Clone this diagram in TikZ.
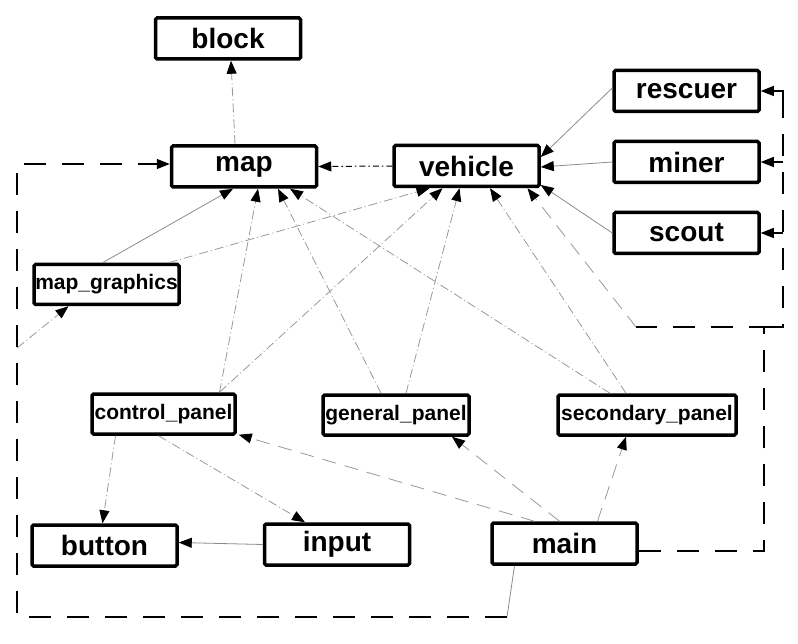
\documentclass[tikz,border=0pt]{standalone}
\usepackage{fontspec}
\setmainfont{Liberation Sans}
\usetikzlibrary{arrows.meta,calc}
\begin{document}
\begin{tikzpicture}[x=1pt,y=-1pt,
  box/.style={draw=black,line width=3.5pt,rounded corners=1.5pt,inner sep=0pt,fill=white,font=\bfseries},
  bigbox/.style={box,minimum width=145pt,minimum height=41pt,font=\fontsize{28}{30}\selectfont\bfseries},
  smallbox/.style={box,minimum height=40pt,font=\fontsize{21}{23}\selectfont\bfseries},
  arr/.style={-{Triangle[length=13pt,width=10pt,color=black]}},
  gsolid/.style={draw=black!45,line width=0.8pt},
  gdd/.style={draw=black!40,line width=0.8pt,dash pattern=on 9pt off 3pt on 1pt off 3pt},
  glong/.style={draw=black!40,line width=0.8pt,dash pattern=on 14pt off 9pt},
  bdd/.style={draw=black,line width=1pt,dash pattern=on 6pt off 3pt on 1.5pt off 3pt},
  route/.style={draw=black,line width=1.1pt,dash pattern=on 22pt off 16pt},
  bsolid/.style={draw=black,line width=1.1pt}]
\useasboundingbox (0,0) rectangle (798,644);
\fill[white] (0,0) rectangle (798,644);

% nodes
\node[bigbox] (block) at (228,38.5) {block};
\node[bigbox] (map) at (244,166.5) {map};
\node[bigbox] (vehicle) at (466.5,166) {vehicle};
\node[bigbox] (rescuer) at (686.5,91) {rescuer};
\node[bigbox] (miner) at (686.5,162) {miner};
\node[bigbox] (scout) at (686.5,233) {scout};
\node[smallbox,minimum width=145pt] (mapg) at (106.5,284.5) {map\_graphics};
\node[smallbox,minimum width=143pt] (cp) at (163.5,414) {control\_panel};
\node[smallbox,minimum width=146pt] (gp) at (396,415) {general\_panel};
\node[smallbox,minimum width=178pt] (sp) at (647,415) {secondary\_panel};
\node[bigbox] (button) at (104.5,545.5) {button};
\node[bigbox] (input) at (337,544.5) {input};
\node[bigbox] (main) at (564.5,543.5) {main};

% route coordinates
\coordinate (bm) at (507,617);
\coordinate (bl) at (17,617);
\coordinate (tl) at (17,164);
\coordinate (lb) at (17,348);
\coordinate (r1) at (764,551);
\coordinate (r2) at (764,327);
\coordinate (r3) at (636,327);
\coordinate (r4) at (783,327);
\coordinate (r5) at (783,100);

\begin{scope}[on background layer/.style={}]
% upper edges
\draw[gdd,arr] ($(map.north)+(-9,0)$) -- ($(block.south)+(3,0)$);
\draw[bdd,arr] (vehicle.west) -- (map.east);
\draw[gsolid,arr] ($(rescuer.west)+(0,-3)$) -- ($(vehicle.east)+(0,-9)$);
\draw[gsolid,arr] (miner.west) -- ($(vehicle.east)+(0,1)$);
\draw[gsolid,arr] (scout.west) -- ($(vehicle.east)+(0,19)$);
\draw[gsolid,arr] ($(mapg.north)+(-4,0)$) -- ($(map.south)+(-11,0)$);
\draw[gdd,arr] ($(mapg.north)+(62,0)$) -- ($(vehicle.south)+(-37,0)$);

% panels to map / vehicle
\draw[gdd,arr] ($(cp.north)+(56,0)$) -- ($(map.south)+(14,0)$);
\draw[gdd,arr] ($(cp.north)+(56,0)$) -- ($(vehicle.south)+(-24,0)$);
\draw[gdd,arr] ($(gp.north)+(-15,0)$) -- ($(map.south)+(34,0)$);
\draw[gdd,arr] ($(gp.north)+(10,0)$) -- ($(vehicle.south)+(-7,0)$);
\draw[gdd,arr] ($(sp.north)+(-37,0)$) -- ($(map.south)+(46,0)$);
\draw[gdd,arr] ($(sp.north)+(-21,0)$) -- ($(vehicle.south)+(23.5,0)$);

% main to panels
\draw[glong,arr] ($(main.north)+(-30,0)$) -- ($(cp.south east)+(2,-1)$);
\draw[glong,arr] ($(main.north)+(-5,0)$) -- ($(gp.south)+(56,0)$);
\draw[glong,arr] ($(main.north)+(33,0)$) -- ($(sp.south)+(-21,0)$);

% lower edges
\draw[gdd,arr] ($(cp.south)+(-48,0)$) -- ($(button.north)+(-2,0)$);
\draw[gdd,arr] ($(cp.south)+(-5,0)$) -- ($(input.north)+(-32,0)$);
\draw[gsolid,arr] (input.west) -- ($(button.east)+(0,-3)$);

% left route main -> map, map_graphics
\draw[gsolid] ($(main.south)+(-50,0)$) -- (bm);
\draw[route,arr] (bm) -- (bl) -- (tl) -- (map.west |- tl);
\draw[gdd,arr] (lb) -- ($(mapg.south)+(-38,0)$);

% right route main -> vehicle, rescuer, miner, scout
\draw[route] (main.east |- r1) -- (r1) -- (r2) -- (r3);
\draw[glong,arr] (r3) -- ($(vehicle.south)+(61,0)$);
\draw[route] (r2) -- (r4) -- (r5);
\draw[bsolid,arr] (r5) |- (rescuer.east);
\draw[bsolid,arr] (r4 |- miner.east) -- (miner.east);
\draw[bsolid,arr] (r4 |- scout.east) -- (scout.east);
\end{scope}
\end{tikzpicture}
\end{document}
